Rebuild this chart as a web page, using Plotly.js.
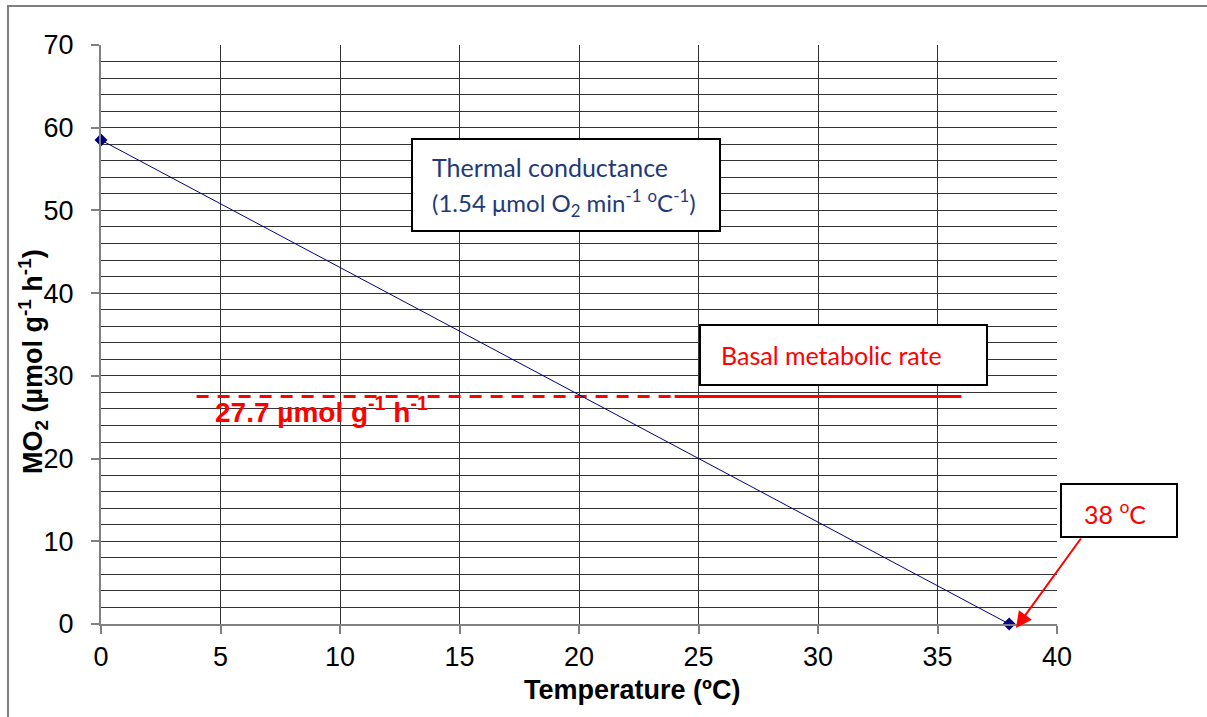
<!DOCTYPE html>
<html>
<head>
<meta charset="utf-8">
<script src="https://cdn.plot.ly/plotly-3.0.1.min.js"></script>
<style>html,body{margin:0;padding:0;background:#fff;}#chart{width:1207px;height:717px;}</style>
</head>
<body>
<div id="chart"></div>
<script>
// Data
const temperature = [0, 38];
const mo2 = [58.5, 0];
const bmrValue = 27.5;
const bmrDashedX = [4, 24];
const bmrSolidX = [24, 36];

const L = 101, R = 1057, T = 45, B = 624;
const px = v => (v - L) / (R - L);
const py = v => (B - v) / (B - T);

const traces = [
  {x: bmrDashedX, y: bmrDashedX.map(() => bmrValue), mode: 'lines',
   line: {color: '#ff0000', width: 3, dash: '12px,9px'}, hoverinfo: 'skip', showlegend: false},
  {x: bmrSolidX, y: bmrSolidX.map(() => bmrValue), mode: 'lines',
   line: {color: '#ff0000', width: 3}, hoverinfo: 'skip', showlegend: false},
  {x: temperature, y: mo2, mode: 'lines+markers',
   line: {color: '#000080', width: 1},
   marker: {symbol: 'diamond', size: 10, color: '#000080'}, showlegend: false, cliponaxis: false}
];

const boxLine = {color: '#000', width: 2};
const shapes = [
  {type: 'rect', xref: 'paper', yref: 'paper', x0: px(8), x1: 1.3, y0: -0.3, y1: py(6),
   line: {color: '#7f7f7f', width: 2}, layer: 'below'},
  {type: 'rect', xref: 'paper', yref: 'paper', x0: px(412), x1: px(720), y0: py(231), y1: py(139),
   line: boxLine, fillcolor: '#fff', layer: 'above'},
  {type: 'rect', xref: 'paper', yref: 'paper', x0: px(700), x1: px(987), y0: py(385), y1: py(325),
   line: boxLine, fillcolor: '#fff', layer: 'above'},
  {type: 'rect', xref: 'paper', yref: 'paper', x0: px(1061), x1: px(1177), y0: py(537), y1: py(484),
   line: boxLine, fillcolor: '#fff', layer: 'above'}
];

const calib = 'Lato, Open Sans, sans-serif';
const arial = 'Arial, Liberation Sans, sans-serif';
const annotations = [
  {xref: 'paper', yref: 'paper', x: px(430), y: py(167), xanchor: 'left', yanchor: 'middle', align: 'left',
   showarrow: false, font: {family: calib, size: 25, color: '#1f3a78'}, text: 'Thermal conductance'},
  {xref: 'paper', yref: 'paper', x: px(430), y: py(203), xanchor: 'left', yanchor: 'middle', align: 'left',
   showarrow: false, font: {family: calib, size: 24, color: '#1f3a78'},
   text: '(1.54 μmol O<sub>2</sub> min<sup>-1</sup> <sup>o</sup>C<sup>-1</sup>)'},
  {xref: 'paper', yref: 'paper', x: px(719), y: py(355), xanchor: 'left', yanchor: 'middle',
   showarrow: false, font: {family: calib, size: 25, color: '#ff0000'}, text: 'Basal metabolic rate'},
  {xref: 'paper', yref: 'paper', x: px(1082), y: py(512), xanchor: 'left', yanchor: 'middle',
   showarrow: false, font: {family: calib, size: 25, color: '#ff0000'}, text: '38 <sup>o</sup>C'},
  {xref: 'paper', yref: 'paper', x: px(213), y: py(410), xanchor: 'left', yanchor: 'middle',
   showarrow: false, font: {family: arial, size: 28, color: '#ff0000'},
   text: '<b>27.7 µmol g<sup>-1</sup> h<sup>-1</sup></b>'},
  {xref: 'paper', yref: 'paper', x: px(1016), y: py(628), ax: 66, ay: -91, axref: 'pixel', ayref: 'pixel',
   text: '', showarrow: true, arrowhead: 2, arrowsize: 1.6, arrowwidth: 2, arrowcolor: '#ff0000'},
  {xref: 'paper', yref: 'paper', x: px(632), y: py(690), xanchor: 'center', yanchor: 'middle', showarrow: false,
   font: {family: arial, size: 27, color: '#000'}, text: '<b>Temperature (ºC)</b>'},
  {xref: 'paper', yref: 'paper', x: px(33), y: py(362), xanchor: 'center', yanchor: 'middle', showarrow: false,
   textangle: -90, font: {family: arial, size: 27, color: '#000'},
   text: '<b>MO<sub>2</sub> (µmol g<sup>-1</sup> h<sup>-1</sup>)</b>'}
];

const tickFont = {family: arial, size: 27, color: '#000'};
const layout = {
  width: 1207, height: 717,
  margin: {l: L, r: 1207 - R, t: T, b: 717 - B, pad: 0},
  paper_bgcolor: '#fff', plot_bgcolor: '#fff',
  showlegend: false,
  font: {family: arial, size: 20, color: '#000'},
  xaxis: {range: [0, 40], dtick: 5, tick0: 0, showgrid: true, gridcolor: '#333', gridwidth: 1,
    zeroline: false, showline: true, linecolor: '#808080', linewidth: 2,
    ticks: 'outside', ticklen: 8, tickcolor: '#808080', tickwidth: 2, tickfont: tickFont,
    ticklabelstandoff: 0, fixedrange: true},
  yaxis: {range: [0, 70], dtick: 10, tick0: 0, showgrid: true, gridcolor: '#333', gridwidth: 1,
    minor: {dtick: 2, showgrid: true, gridcolor: '#333', gridwidth: 1, ticks: ''},
    zeroline: false, showline: true, linecolor: '#808080', linewidth: 2,
    ticks: 'outside', ticklen: 8, tickcolor: '#808080', tickwidth: 2, tickfont: tickFont,
    ticklabelstandoff: 12, fixedrange: true},
  shapes: shapes,
  annotations: annotations
};

Plotly.newPlot('chart', traces, layout, {displayModeBar: false, staticPlot: true});
</script>
</body>
</html>
